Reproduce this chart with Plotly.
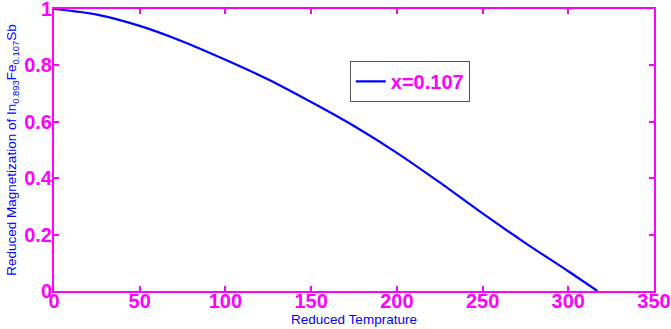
import plotly.graph_objects as go

temperature = [0, 25, 50, 75, 100, 125, 150, 175, 200, 225, 250, 275, 300, 317]
magnetization = [1.0, 0.98, 0.94, 0.885, 0.82, 0.75, 0.67, 0.585, 0.49, 0.385, 0.275, 0.17, 0.07, 0.0]
x_ticks = [0, 50, 100, 150, 200, 250, 300, 350]
y_ticks = [0, 0.2, 0.4, 0.6, 0.8, 1]
y_tick_labels = ["0", "0.2", "0.4", "0.6", "0.8", "1"]

MAG = "#FF00FF"
FONT = "Liberation Sans, Arial, sans-serif"

fig = go.Figure()
fig.add_trace(go.Scatter(x=temperature, y=magnetization, mode="lines",
                         line=dict(color="#0000FF", width=2.2, shape="spline", smoothing=0.8),
                         name="x=0.107"))

axis_common = dict(showgrid=False, zeroline=False, showline=True, linecolor=MAG, linewidth=2,
                   mirror="allticks", ticks="inside", ticklen=5, tickwidth=1.5, tickcolor=MAG,
                   automargin=False, ticklabeloverflow="allow",
                   tickfont=dict(family=FONT, size=20, color=MAG, weight="bold"))

fig.update_layout(
    width=671, height=329,
    margin=dict(l=54, r=17, t=9, b=38),
    paper_bgcolor="white", plot_bgcolor="white",
    font=dict(family=FONT),
    xaxis=dict(range=[0, 350], tickvals=x_ticks, ticklabelstandoff=-9,
               title=dict(text="Reduced Temprature", font=dict(family=FONT, size=13.5, color="#0000FF"), standoff=2),
               **axis_common),
    yaxis=dict(range=[0, 1], tickvals=y_ticks, ticktext=y_tick_labels, ticklabelstandoff=-4,
               title=dict(text="Reduced Magnetization of In<sub>0.893</sub>Fe<sub>0.107</sub>Sb",
                          font=dict(family=FONT, size=13.5, color="#0000FF"), standoff=4),
               **axis_common),
    showlegend=True,
    legend=dict(x=0.493, y=0.816, xanchor="left", yanchor="top", bgcolor="white",
                bordercolor="#555555", borderwidth=1,
                font=dict(family=FONT, size=20, color=MAG, weight="bold"), itemwidth=30),
)

fig.write_html("out.html", config={"displayModeBar": False},
               post_script="document.body.style.margin='0';")
